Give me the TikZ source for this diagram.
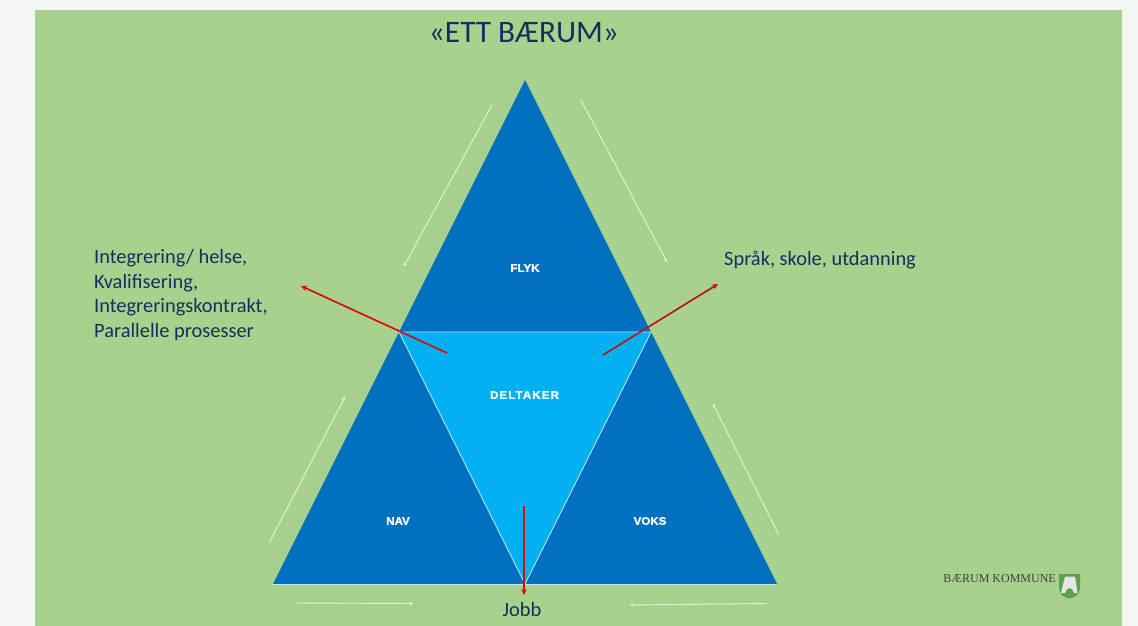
\documentclass[tikz,border=0pt]{standalone}
\usepackage{fontspec}
\setmainfont{Carlito}
\newfontfamily\labfont[FakeStretch=1.05,FakeBold=1.2]{Liberation Sans Bold}
\newfontfamily\labwide[FakeStretch=1.05,FakeBold=1.2,LetterSpace=10]{Liberation Sans Bold}
\newfontfamily\logofont{Liberation Serif}
\usetikzlibrary{arrows.meta}
\definecolor{pagebg}{HTML}{F4F6F4}
\definecolor{panel}{HTML}{A9D18E}
\definecolor{dblue}{HTML}{0070C0}
\definecolor{lblue}{HTML}{00B0F0}
\definecolor{navy}{HTML}{12305E}
\definecolor{redline}{HTML}{DC0A0A}
\definecolor{darkred}{HTML}{B81420}
\definecolor{shieldgreen}{HTML}{5FA04A}
\tikzset{
  x=1pt,y=-1pt,
  tri/.style={fill=dblue,draw=none},
  mid/.style={fill=lblue,draw=white!75!lblue,line width=0.8pt,line join=round},
  whitearrow/.style={draw=white!70!panel,line width=0.9pt,-{Stealth[length=3.5pt,width=3.5pt]}},
  redarrow/.style={draw=redline,line width=1.7pt,-{Stealth[length=6pt,width=5.5pt]}},
  tlabel/.style={font=\labfont\fontsize{11}{12}\selectfont,text=white,inner sep=0pt},
  body/.style={font=\fontsize{20.4}{24.4}\selectfont,text=navy,inner sep=0pt,anchor=west,align=left},
}
\begin{document}
\begin{tikzpicture}
\useasboundingbox (0,0) rectangle (1138,626);
\fill[pagebg] (0,0) rectangle (1138,626);
\fill[panel] (35,10) rectangle (1122,626);
% triangle corners
\coordinate (apex) at (525,80);
\coordinate (ml) at (399,332);
\coordinate (mr) at (651,332);
\coordinate (bl) at (273,584);
\coordinate (bm) at (525,584);
\coordinate (br) at (777,584);
\fill[tri] (apex) -- (mr) -- (ml) -- cycle;
\fill[tri] (ml) -- (bm) -- (bl) -- cycle;
\fill[tri] (mr) -- (br) -- (bm) -- cycle;
\draw[white!75!lblue,line width=0.6pt] (bl) -- (br);
\draw[mid] (ml) -- (mr) -- (bm) -- cycle;
\node[tlabel] (flyk) at (525,268) {FLYK};
\node[tlabel,font=\labwide\fontsize{11}{12}\selectfont] (deltaker) at (524.5,395) {DELTAKER};
\node[tlabel] (nav) at (398,521) {NAV};
\node[tlabel] (voks) at (650,521) {VOKS};
\node[font=\fontsize{31.3}{36}\selectfont,text=navy,inner sep=0pt] (title) at (524,32.5) {«ETT BÆRUM»};
\node[body] (left) at (94,295) {Integrering/ helse,\\Kvalifisering,\\Integreringskontrakt,\\Parallelle prosesser};
\node[body] (right) at (724,260.5) {Språk, skole, utdanning};
\node[font=\fontsize{20.4}{24}\selectfont,text=navy,inner sep=0pt] (jobb) at (522,609) {Jobb};
% white arrows
\coordinate (w1a) at (492,105); \coordinate (w1b) at (404,266);
\coordinate (w2a) at (581,100); \coordinate (w2b) at (667,262);
\coordinate (w3a) at (269,543); \coordinate (w3b) at (345,397);
\coordinate (w4a) at (779,535); \coordinate (w4b) at (713,404);
\coordinate (w5a) at (295,603); \coordinate (w5b) at (413,603.5);
\coordinate (w6a) at (766,603.5); \coordinate (w6b) at (630,605);
\draw[whitearrow] (w1a) -- (w1b);
\draw[whitearrow] (w2a) -- (w2b);
\draw[whitearrow] (w3a) -- (w3b);
\draw[whitearrow] (w4a) -- (w4b);
\draw[whitearrow] (w5a) -- (w5b);
\draw[whitearrow] (w6a) -- (w6b);
% red arrows
\coordinate (r1a) at (447,353); \coordinate (r1b) at (301,286);
\coordinate (r2a) at (603,355); \coordinate (r2b) at (718,284);
\coordinate (r3a) at (524,506); \coordinate (r3b) at (524,595);
\draw[redarrow] (r1a) -- (r1b);
\draw[redarrow,draw=darkred] (r2a) -- (r2b);
\draw[redarrow] (r3a) -- (r3b);
% logo
\node[font=\logofont\fontsize{12}{14}\selectfont,text=black!75,inner sep=0pt,anchor=east] (kommune) at (1056,579) {BÆRUM KOMMUNE};
\fill[shieldgreen] (1059,574) -- (1080,574) -- (1080,588) .. controls (1080,594) and (1075,598) .. (1069.5,598.5) .. controls (1064,598) and (1059,594) .. (1059,588) -- cycle;
\fill[white!90!black] (1065,576.5) -- (1075,576.5) -- (1077.5,593) -- (1074,593) .. controls (1073,590) and (1072,588) .. (1069.5,588) .. controls (1067,588) and (1066,590) .. (1065,593) -- (1061,593) -- cycle;
\end{tikzpicture}
\end{document}
